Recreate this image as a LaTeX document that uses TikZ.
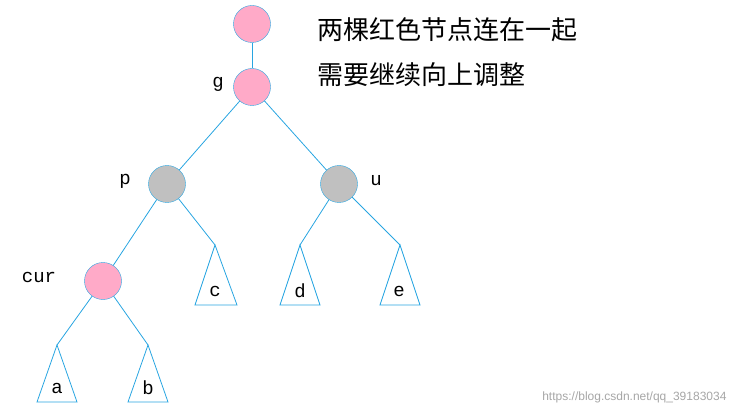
\documentclass[tikz,border=0pt]{standalone}
\usepackage{fontspec}
\setmainfont{Liberation Serif}
\setmonofont{Liberation Mono}
\newfontfamily\cjk{Noto Sans CJK SC}
\newfontfamily\wm{Liberation Sans}
\definecolor{edge}{RGB}{40,165,225}
\definecolor{pinkf}{RGB}{255,170,200}
\definecolor{grayf}{RGB}{192,192,192}
\begin{document}
\begin{tikzpicture}[x=1pt,y=-1pt,
  circ/.style={circle,draw=edge,minimum size=37pt,inner sep=0pt},
  redn/.style={circ,fill=pinkf},
  grayn/.style={circ,fill=grayf},
  tri/.style={draw=edge,line width=0.8pt},
  lbl/.style={font=\ttfamily\fontsize{19}{19}\selectfont},
  ln/.style={draw=edge,line width=0.8pt}]
\useasboundingbox (0,0) rectangle (742,417);
\node[redn] (top) at (252,24) {};
\node[redn] (g) at (252,87) {};
\node[grayn] (p) at (167,184) {};
\node[grayn] (u) at (339,184) {};
\node[redn] (cur) at (103,281) {};
\coordinate (tc) at (215,245);
\coordinate (td) at (300,245);
\coordinate (te) at (400,245);
\coordinate (ta) at (57,345);
\coordinate (tb) at (148,345);
\draw[ln] (top) -- (g);
\draw[ln] (g) -- (p);
\draw[ln] (g) -- (u);
\draw[ln] (p) -- (cur);
\draw[ln] (p) -- (tc);
\draw[ln] (u) -- (td);
\draw[ln] (u) -- (te);
\draw[ln] (cur) -- (ta);
\draw[ln] (cur) -- (tb);
\draw[tri] (tc) -- (195,305) -- (237,305) -- cycle;
\draw[tri] (td) -- (280,305) -- (320,305) -- cycle;
\draw[tri] (te) -- (380,305) -- (420,305) -- cycle;
\draw[tri] (ta) -- (37,402) -- (77,402) -- cycle;
\draw[tri] (tb) -- (128,402) -- (168,402) -- cycle;
\node[lbl] (lc) at (215,291) {c};
\node[lbl] (ld) at (300,291) {d};
\node[lbl] (le) at (399,291) {e};
\node[lbl] (la) at (57,388) {a};
\node[lbl] (lb) at (148,388) {b};
\node[lbl] (lg) at (218,84) {g};
\node[lbl] (lp) at (125,181) {p};
\node[lbl] (lu) at (376,181) {u};
\node[lbl] (lcur) at (39,277) {cur};
\node[anchor=west,font=\cjk\fontsize{26}{26}\selectfont] (t1) at (314,30) {两棵红色节点连在一起};
\node[anchor=west,font=\cjk\fontsize{26}{26}\selectfont] (t2) at (314,75) {需要继续向上调整};
\node[anchor=east,text=gray!70,font=\wm\fontsize{12}{12}\selectfont] (wm) at (730,397) {https://blog.csdn.net/qq\_39183034};
\end{tikzpicture}
\end{document}
